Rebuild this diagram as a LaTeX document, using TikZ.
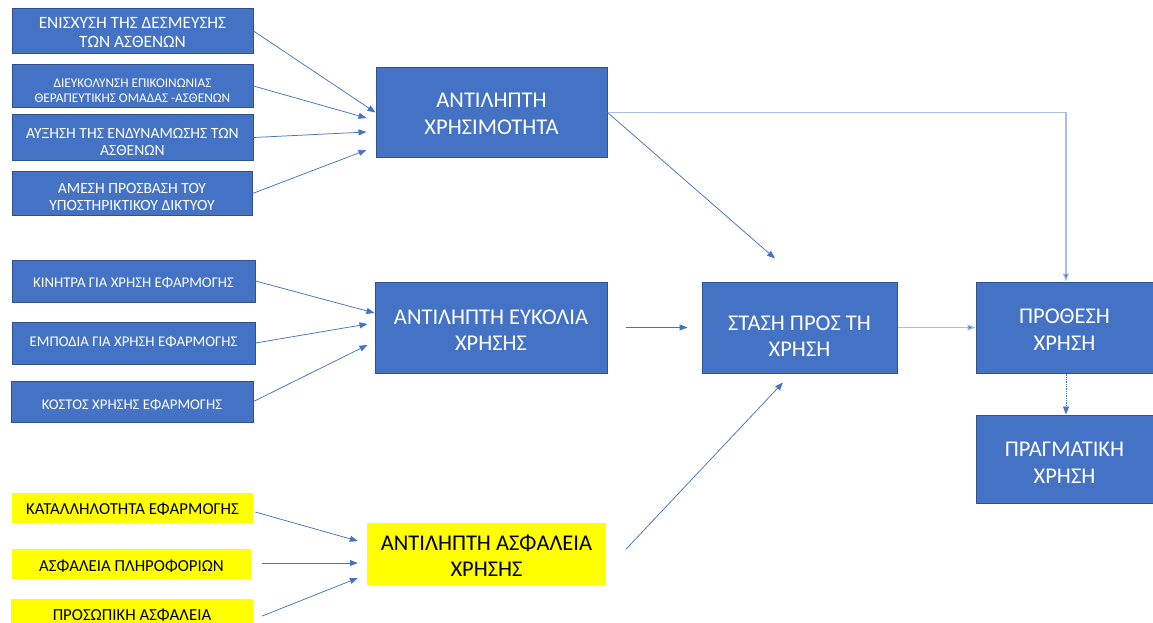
\documentclass[tikz,border=0pt]{standalone}
\usepackage{fontspec}
\setmainfont{Carlito}
\usetikzlibrary{arrows.meta}
\definecolor{boxblue}{HTML}{4472C4}
\definecolor{boxedge}{HTML}{2F528F}
\definecolor{linkblue}{HTML}{4472C4}
\definecolor{paleblue}{HTML}{A9BDE3}
\definecolor{hiyellow}{HTML}{FFFF00}
% centred lines of box text; empty space of 2*#1 pt above them lowers them by #1 pt
\newcommand\boxtext[2]{\vbox{\kern#1pt\kern#1pt\hbox{\begin{tabular}{@{}c@{}}#2\end{tabular}}}}
\tikzset{
  bluebox/.style={rectangle, fill=boxblue, draw=boxedge, line width=1pt,
    text=white, inner sep=0pt},
  yellowbox/.style={rectangle, fill=hiyellow, draw=none,
    text=black, inner sep=0pt},
  bigtext/.style={font=\fontsize{22.5}{26.5}\selectfont},
  link/.style={draw=linkblue, line width=0.75pt,
    -{Triangle[length=8pt,width=6pt]}},
  palelink/.style={draw=paleblue, line width=1.2pt,
    -{Triangle[length=8pt,width=6pt,fill=linkblue]}},
}
\begin{document}
\begin{tikzpicture}[x=1pt,y=-1pt]
\useasboundingbox (0,0) rectangle (1153,623);
\clip (0,0) rectangle (1153,623);

% usefulness factors
\node[bluebox, minimum width=241pt, minimum height=42pt,
  font=\fontsize{17.3}{19.5}\selectfont] (b1) at (132.5,31)
  {\boxtext{3}{ΕΝΙΣΧΥΣΗ ΤΗΣ ΔΕΣΜΕΥΣΗΣ\\ΤΩΝ ΑΣΘΕΝΩΝ}};
\node[bluebox, minimum width=241pt, minimum height=42pt,
  font=\fontsize{13.3}{15}\selectfont] (b2) at (132.5,86)
  {\boxtext{6.5}{ΔΙΕΥΚΟΛΥΝΣΗ ΕΠΙΚΟΙΝΩΝΙΑΣ\\ΘΕΡΑΠΕΥΤΙΚΗΣ ΟΜΑΔΑΣ -ΑΣΘΕΝΩΝ}};
\node[bluebox, minimum width=241pt, minimum height=41pt,
  font=\fontsize{15.6}{16.8}\selectfont] (b3) at (132.5,137.5)
  {\boxtext{6.5}{ΑΥΞΗΣΗ ΤΗΣ ΕΝΔΥΝΑΜΩΣΗΣ ΤΩΝ\\ΑΣΘΕΝΩΝ}};
\node[bluebox, minimum width=240pt, minimum height=43pt,
  font=\fontsize{15.6}{16.8}\selectfont] (b4) at (132,193.5)
  {\boxtext{5.5}{ΑΜΕΣΗ ΠΡΟΣΒΑΣΗ ΤΟΥ\\ΥΠΟΣΤΗΡΙΚΤΙΚΟΥ ΔΙΚΤΥΟΥ}};

% ease-of-use factors
\node[bluebox, minimum width=243pt, minimum height=42pt,
  font=\fontsize{14.8}{16}\selectfont] (b5) at (133.5,281)
  {\boxtext{3}{ΚΙΝΗΤΡΑ ΓΙΑ ΧΡΗΣΗ ΕΦΑΡΜΟΓΗΣ}};
\node[bluebox, minimum width=243pt, minimum height=42pt,
  font=\fontsize{14.8}{16}\selectfont] (b6) at (133.5,343)
  {\boxtext{0.5}{ΕΜΠΟΔΙΑ ΓΙΑ ΧΡΗΣΗ ΕΦΑΡΜΟΓΗΣ}};
\node[bluebox, minimum width=242pt, minimum height=41pt,
  font=\fontsize{14.8}{16}\selectfont] (b7) at (132,401.5)
  {\boxtext{5}{ΚΟΣΤΟΣ ΧΡΗΣΗΣ ΕΦΑΡΜΟΓΗΣ}};

% safety factors
\node[yellowbox, minimum width=241pt, minimum height=30pt,
  font=\fontsize{16.8}{18}\selectfont] (y1) at (132.5,508)
  {\boxtext{3}{ΚΑΤΑΛΛΗΛΟΤΗΤΑ ΕΦΑΡΜΟΓΗΣ}};
\node[yellowbox, minimum width=239pt, minimum height=30pt,
  font=\fontsize{16.8}{18}\selectfont] (y2) at (131.5,564)
  {\boxtext{4}{ΑΣΦΑΛΕΙΑ ΠΛΗΡΟΦΟΡΙΩΝ}};
\node[yellowbox, minimum width=242pt, minimum height=30pt,
  font=\fontsize{16.8}{18}\selectfont] (y3) at (132,614)
  {\boxtext{3.2}{ΠΡΟΣΩΠΙΚΗ ΑΣΦΑΛΕΙΑ}};

% main constructs
\node[bluebox, bigtext, minimum width=231pt, minimum height=89pt] (u) at (491.5,112.5)
  {\boxtext{3}{ΑΝΤΙΛΗΠΤΗ\\ΧΡΗΣΙΜΟΤΗΤΑ}};
\node[bluebox, bigtext, minimum width=232pt, minimum height=91pt] (e) at (491,327.5)
  {\boxtext{4.5}{ΑΝΤΙΛΗΠΤΗ ΕΥΚΟΛΙΑ\\ΧΡΗΣΗΣ}};
\node[yellowbox, bigtext, minimum width=239pt, minimum height=62pt] (ya) at (486.5,554)
  {\boxtext{4}{ΑΝΤΙΛΗΠΤΗ ΑΣΦΑΛΕΙΑ\\ΧΡΗΣΗΣ}};
\node[bluebox, bigtext, minimum width=195pt, minimum height=91pt] (s) at (799.5,327.5)
  {\boxtext{10.5}{ΣΤΑΣΗ ΠΡΟΣ ΤΗ\\ΧΡΗΣΗ}};
\node[bluebox, bigtext, minimum width=177pt, minimum height=91pt] (p) at (1064.5,327.5)
  {\boxtext{4}{ΠΡΟΘΕΣΗ\\ΧΡΗΣΗ}};
\node[bluebox, bigtext, minimum width=177pt, minimum height=88pt] (r) at (1064.5,459)
  {\boxtext{5.5}{ΠΡΑΓΜΑΤΙΚΗ\\ΧΡΗΣΗ}};

% factors into perceived usefulness
\draw[link] (b1.east) -- (u.west);
\draw[link] (b2.east) -- ([xshift=-9pt,yshift=-5.5pt]u.west);
\draw[link] (b3.east) -- ([xshift=-9pt,yshift=-19.5pt]u.west);
\draw[link] (b4.east) -- ([xshift=-9pt,yshift=-37.5pt]u.west);

% factors into perceived ease of use
\draw[link] (b5.east) -- ([yshift=14.5pt]e.west);
\draw[link] (b6.east) -- ([xshift=-7pt,yshift=3.5pt]e.west);
\draw[link] (b7.east) -- ([xshift=-7pt,yshift=-17.5pt]e.west);

% factors into perceived safety
\draw[link] ([xshift=2pt,yshift=-4pt]y1.east) -- ([xshift=-9pt,yshift=13pt]ya.west);
\draw[link] ([xshift=11pt,yshift=1pt]y2.east) -- ([xshift=-9pt,yshift=-9pt]ya.west);
\draw[link] ([xshift=9pt,yshift=-2pt]y3.east) -- ([xshift=-9pt,yshift=-24pt]ya.west);

% constructs into attitude and intention
\draw[link] (u.east) -- ([xshift=-24.5pt,yshift=23pt]s.north);
\draw[link] ([xshift=18pt]e.east) -- ([xshift=-14pt]s.west);
\draw[link] ([xshift=20pt,yshift=5pt]ya.east) -- ([xshift=-16.5pt,yshift=-9pt]s.south);
\draw[palelink] (s.east) -- (p.west);
\draw[palelink] (u.east) -| ([xshift=1.5pt]p.north);
\draw[link, densely dotted] ([xshift=1.5pt]p.south) -- ([xshift=1.5pt]r.north);
\end{tikzpicture}
\end{document}
